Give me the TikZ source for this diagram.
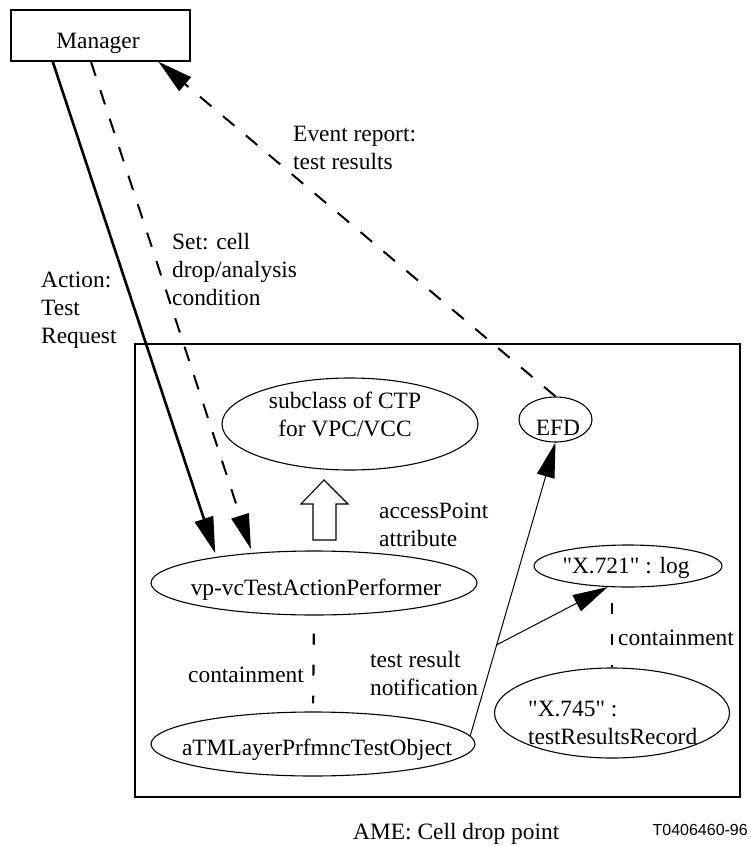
\documentclass[tikz,border=0pt]{standalone}
\usepackage{fontspec}
\setmainfont{Liberation Serif}
\newfontfamily\qfont{Liberation Serif}
\newfontfamily\labsans{Liberation Sans}
\usetikzlibrary{shapes.geometric,arrows.meta,calc}
\begin{document}
\begin{tikzpicture}[x=1pt,y=-1pt,
  every node/.style={inner sep=0pt, font=\qfont\fontsize{23.4pt}{28pt}\selectfont},
  oval/.style={draw, ellipse, line width=1.1pt, inner sep=0pt},
  lbl/.style={anchor=base west, align=left},
  dsh/.style={line width=2pt, dash pattern=on 15pt off 15pt},
  tip/.style={-{Triangle[length=35pt,width=18pt]}},
  contain/.style={line width=2.2pt, dash pattern=on 11pt off 20pt},
  thinl/.style={line width=1pt}]
\useasboundingbox (0,0) rectangle (750,846);

% container
\draw[line width=1.4pt] (135,344) rectangle (740,797);

% nodes
\node[draw, line width=1.3pt, minimum width=179pt, minimum height=51pt] (man) at (100.5,35.5) {};
\node[anchor=base] (mantxt) at (98,48) {Manager};

\node[oval, minimum width=256pt, minimum height=92pt] (ctp) at (350,424) {};
\node[anchor=base, align=center] (ctptxt) at (345,436) {subclass of CTP\\for VPC/VCC};

\node[oval, minimum width=326pt, minimum height=64pt] (vp) at (314,583) {};
\node[anchor=base] (vptxt) at (316,595) {vp-vcTestActionPerformer};

\node[oval, minimum width=73pt, minimum height=45pt] (efd) at (555.5,419.5) {};
\node[anchor=base] (efdtxt) at (558,435) {EFD};

\node[oval, minimum width=188pt, minimum height=42pt] (x721) at (628,566) {};
\node[anchor=base] (x721txt) at (626,573) {"X.721" : log};

\node[oval, minimum width=235pt, minimum height=90pt] (x745) at (612,713) {};
\node[lbl] (x745txt) at (528,744) {"X.745" :\\testResultsRecord};

\node[oval, minimum width=324pt, minimum height=64pt] (atml) at (313,744) {};
\node[anchor=base] (atmltxt) at (317,755) {aTMLayerPrfmncTestObject};

% labels (base anchor = baseline of last line)
\node[lbl] (lact) at (41,343) {Action:\\Test\\Request};
\node[lbl] (lset) at (172,305) {Set: cell\\drop/analysis\\condition};
\node[lbl] (levt) at (293,169) {Event report:\\test results};
\node[lbl] (lacc) at (379,546) {accessPoint\\attribute};
\node[lbl] (lcont1) at (188,682) {containment};
\node[lbl] (ltrn) at (370,695) {test result\\notification};
\node[lbl] (lcont2) at (618,645) {containment};
\node[lbl] (lame) at (353,839) {AME: Cell drop point};
\node[anchor=base east, font=\labsans\fontsize{16pt}{19pt}\selectfont] (lnum) at (748,835) {T0406460-96};

% connectors
\draw[line width=2.6pt, shorten >=4pt, -{Triangle[length=36pt,width=19pt]}]
  ($(man.south west)!0.235!(man.south east)$) -- (vp.165);
\draw[dsh, tip, shorten >=4pt] ($(man.south west)!0.447!(man.south east)$) -- (vp.154);
\draw[dsh, tip] (efd.north) -- ($(man.south west)!0.821!(man.south east)$);
\draw[thinl, tip] (atml.3) -- (efd.south);
\coordinate (br) at ($(atml.3)!0.31!(efd.south)$);
\draw[thinl, tip] (br) -- (x721.226);

% hollow arrow (accessPoint attribute)
\draw[line width=1.1pt] (313,540) -- (313,504) -- (301,504) -- (324,480) -- (348,504) -- (336,504) -- (336,540) -- cycle;

% containment
\draw[contain, shorten <=18pt, shorten >=8pt] (vp.south) -- (atml.north);
\draw[contain, shorten <=15pt] (x745.north |- x721.south) -- (x745.north);
\end{tikzpicture}
\end{document}
